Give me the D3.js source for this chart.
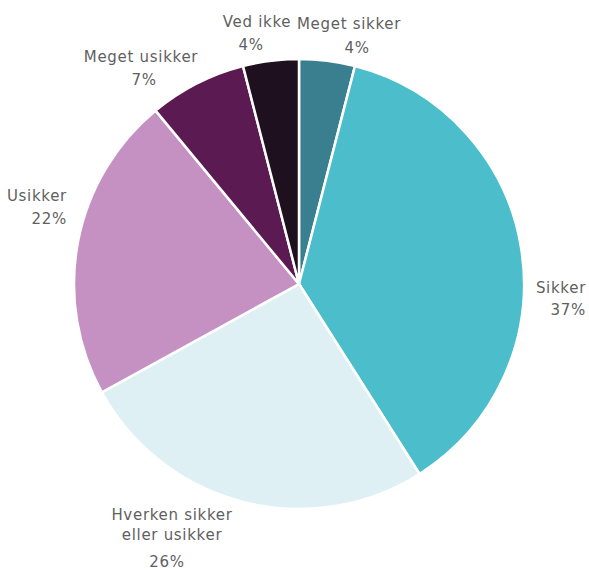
<!DOCTYPE html>
<html>
<head>
<meta charset="utf-8">
<script src="https://cdn.jsdelivr.net/npm/d3@7"></script>
<style>
  html, body { margin: 0; padding: 0; background: #fff; }
  svg { display: block; }
  text { font-family: "DejaVu Sans", Verdana, sans-serif; font-size: 15px; letter-spacing: 0.7px; fill: #5f5f5f; }
</style>
</head>
<body>
<svg id="chart" width="589" height="570"></svg>
<script>
// Data (clockwise from 12 o'clock)
const categories = ["Meget sikker", "Sikker", "Hverken sikker eller usikker", "Usikker", "Meget usikker", "Ved ikke"];
const values = [4, 37, 26, 22, 7, 4];
const labelLines = [["Meget sikker"], ["Sikker"], ["Hverken sikker", "eller usikker"], ["Usikker"], ["Meget usikker"], ["Ved ikke"]];
const colors = ["#3a7f8f", "#4bbdcb", "#dff0f5", "#c591c3", "#5c1a52", "#1f1020"];

// Layout
const width = 589, height = 570;
const cx = 299, cy = 284, R = 225;
// label anchor offsets from the pie centre (x of block, baseline of first line), text anchor, line gaps
const labelLayout = [
  { dx: 50,   dy: -255, anchor: "middle", gaps: [24], pctDx: 8 },
  { dx: 287,  dy: 9,    anchor: "end",    gaps: [22], pctDx: 0 },
  { dx: -127, dy: 236,  anchor: "middle", gaps: [20, 27], pctDx: -5 },
  { dx: -232, dy: -83,  anchor: "end",    gaps: [23], pctDx: 0 },
  { dx: -158, dy: -222, anchor: "middle", gaps: [23], pctDx: 3 },
  { dx: -42,  dy: -257, anchor: "middle", gaps: [23], pctDx: -6 }
];

const svg = d3.select("#chart");
const g = svg.append("g").attr("transform", `translate(${cx},${cy})`);

const pie = d3.pie().sort(null).value(d => d)(values);
const arc = d3.arc().innerRadius(0).outerRadius(R);

g.selectAll("path.slice")
  .data(pie)
  .join("path")
  .attr("class", "slice")
  .attr("d", arc)
  .attr("fill", (d, i) => colors[i])
  .attr("stroke", "#ffffff")
  .attr("stroke-width", 2.5)
  .attr("stroke-linejoin", "round");

const fmt = d => d3.format(".0f")(d) + "%";

pie.forEach((d, i) => {
  const L = labelLayout[i];
  const t = g.append("text")
    .attr("x", L.dx)
    .attr("y", L.dy)
    .attr("text-anchor", L.anchor);
  const lines = labelLines[i];
  lines.forEach((ln, j) => {
    t.append("tspan")
      .attr("x", L.dx)
      .attr("dy", j === 0 ? 0 : L.gaps[j - 1])
      .text(ln);
  });
  t.append("tspan")
    .attr("x", L.dx + L.pctDx)
    .attr("dy", L.gaps[lines.length - 1])
    .text(fmt(values[i]));
});
</script>
</body>
</html>
